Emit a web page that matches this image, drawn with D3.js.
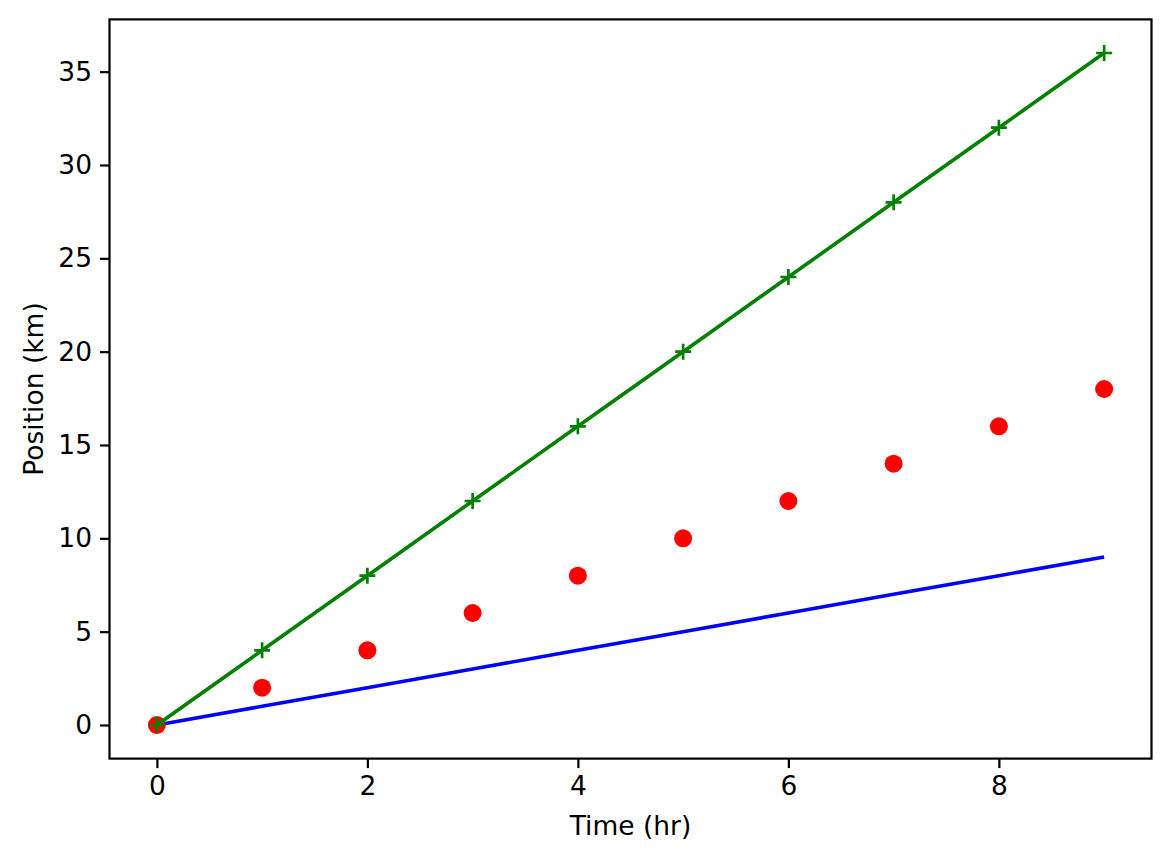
<!DOCTYPE html>
<html>
<head>
<meta charset="utf-8">
<script src="https://cdn.jsdelivr.net/npm/d3@7"></script>
<style>
  html, body { margin: 0; padding: 0; background: #fff; }
  svg text { font-family: "DejaVu Sans", sans-serif; fill: #000; }
</style>
</head>
<body>
<div id="chart"></div>
<script>
// time values (hr) and the three position series (km)
const hours     = [0, 1, 2, 3, 4, 5, 6, 7, 8, 9];
const slowPos   = [0, 1, 2, 3, 4, 5, 6, 7, 8, 9];
const midPos    = [0, 2, 4, 6, 8, 10, 12, 14, 16, 18];
const fastPos   = [0, 4, 8, 12, 16, 20, 24, 28, 32, 36];
const xTicks    = [0, 2, 4, 6, 8];
const yTicks    = [0, 5, 10, 15, 20, 25, 30, 35];

const W = 1170, H = 861;
const box = { l: 109.5, r: 1151.5, t: 19.4, b: 758.6 };
const fontPx = 26.5;

const svg = d3.select("#chart").append("svg")
  .attr("width", W)
  .attr("height", H)
  .attr("viewBox", [0, 0, W, H]);

const x = d3.scaleLinear().domain([-0.45, 9.45]).range([box.l, box.r]);
const y = d3.scaleLinear().domain([-1.8, 37.8]).range([box.b, box.t]);

const rows = (ys) => hours.map((h, i) => ({ x: h, y: ys[i] }));
const line = d3.line().x(d => x(d.x)).y(d => y(d.y));

const plot = svg.append("g");

// blue solid line
plot.append("path")
  .datum(rows(slowPos))
  .attr("d", line)
  .attr("fill", "none")
  .attr("stroke", "#0000ff")
  .attr("stroke-width", 3.6);

// red dots
plot.selectAll(".dot")
  .data(rows(midPos))
  .join("circle")
  .attr("class", "dot")
  .attr("cx", d => x(d.x))
  .attr("cy", d => y(d.y))
  .attr("r", 9)
  .attr("fill", "#ff0000");

// green line with plus markers
plot.append("path")
  .datum(rows(fastPos))
  .attr("d", line)
  .attr("fill", "none")
  .attr("stroke", "#008000")
  .attr("stroke-width", 3.6);

const plusHalf = 8;
plot.selectAll(".plus")
  .data(rows(fastPos))
  .join("path")
  .attr("class", "plus")
  .attr("d", d => {
    const cx = x(d.x), cy = y(d.y);
    return `M${cx - plusHalf},${cy}H${cx + plusHalf}M${cx},${cy - plusHalf}V${cy + plusHalf}`;
  })
  .attr("stroke", "#008000")
  .attr("stroke-width", 2.7)
  .attr("fill", "none");

// axes
const xAxis = d3.axisBottom(x).tickValues(xTicks).tickSize(9.5).tickPadding(8).tickFormat(d3.format("d"));
const yAxis = d3.axisLeft(y).tickValues(yTicks).tickSize(9.5).tickPadding(8).tickFormat(d3.format("d"));

const gx = svg.append("g").attr("transform", `translate(0,${box.b})`).call(xAxis);
const gy = svg.append("g").attr("transform", `translate(${box.l},0)`).call(yAxis);

[gx, gy].forEach(g => {
  g.select(".domain").remove();
  g.selectAll(".tick line").attr("stroke", "#000").attr("stroke-width", 2.2);
  g.selectAll(".tick text").attr("font-size", fontPx).attr("fill", "#000")
    .style("font-family", "'DejaVu Sans', sans-serif");
});
gx.selectAll(".tick text").attr("dy", "0.71em");

// frame
svg.append("rect")
  .attr("x", box.l)
  .attr("y", box.t)
  .attr("width", box.r - box.l)
  .attr("height", box.b - box.t)
  .attr("fill", "none")
  .attr("stroke", "#000")
  .attr("stroke-width", 2.2);

// axis labels
svg.append("text")
  .attr("x", (box.l + box.r) / 2)
  .attr("y", 835)
  .attr("text-anchor", "middle")
  .attr("font-size", fontPx)
  .text("Time (hr)");

svg.append("text")
  .attr("transform", `translate(43,${(box.t + box.b) / 2}) rotate(-90)`)
  .attr("text-anchor", "middle")
  .attr("font-size", fontPx)
  .text("Position (km)");
</script>
</body>
</html>
